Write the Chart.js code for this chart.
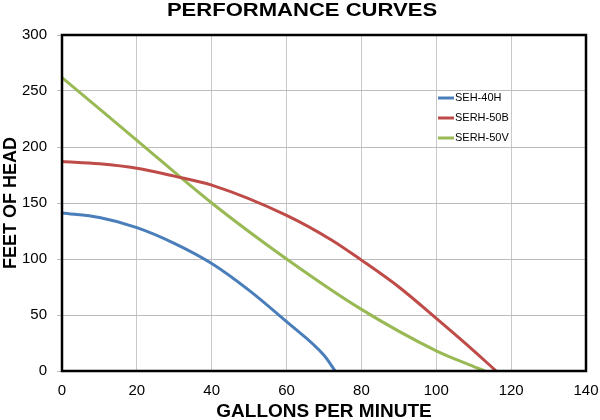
<!DOCTYPE html>
<html>
<head>
<meta charset="utf-8">
<script src="https://cdn.jsdelivr.net/npm/chart.js@4.4.0/dist/chart.umd.min.js"></script>
<style>
  html, body { margin: 0; padding: 0; background: #fff; }
  #wrap { width: 600px; height: 420px; }
</style>
</head>
<body>
<div id="wrap"><canvas id="chart" width="600" height="420"></canvas></div>
<script>
// Curvas de rendimiento (GPM vs. pies de altura)
const seriesNames = ['SEH-40H', 'SERH-50B', 'SERH-50V'];
const seriesColors = ['#4a7ebb', '#be4b48', '#98b954'];

const gpm40H = [0, 10, 20, 30, 40, 50, 60, 70, 73];
const head40H = [141, 137, 128, 114, 96, 72, 44, 14, 0];

const gpm50B = [0, 10, 20, 30, 40, 60, 72, 80, 90, 100, 108, 116];
const head50B = [187, 185, 181, 174, 166, 139, 117, 99, 75, 47, 24, 0];

const gpm50V = [0, 20, 40, 60, 80, 100, 110, 113];
const head50V = [262, 206, 150, 100, 55, 18, 4, 0];

const xTicks = [0, 20, 40, 60, 80, 100, 120, 140];
const yTicks = [0, 50, 100, 150, 200, 250, 300];

const FONT = "'Liberation Sans', Arial, sans-serif";

function toPoints(xs, ys) {
    return xs.map((x, i) => ({ x: x, y: ys[i] }));
}

// marco negro + título + leyenda dentro del área
const decorPlugin = {
    id: 'decor',
    afterDraw(chart) {
        const ctx = chart.ctx;
        const a = chart.chartArea;
        ctx.save();
        ctx.strokeStyle = '#000';
        ctx.lineWidth = 2.5;
        ctx.strokeRect(a.left, a.top, a.right - a.left, a.bottom - a.top);

        // título algo ensanchado, como en la imagen original
        ctx.save();
        ctx.fillStyle = '#000';
        ctx.font = 'bold 19px ' + FONT;
        ctx.textAlign = 'center';
        ctx.textBaseline = 'middle';
        ctx.translate(302, 11);
        ctx.scale(1.16, 1);
        ctx.fillText('PERFORMANCE CURVES', 0, 0);
        ctx.restore();

        ctx.font = '11px ' + FONT;
        ctx.textAlign = 'left';
        ctx.textBaseline = 'middle';
        chart.data.datasets.forEach((ds, i) => {
            const y = 98 + i * 20;
            ctx.strokeStyle = ds.borderColor;
            ctx.lineWidth = 3;
            ctx.beginPath();
            ctx.moveTo(438, y);
            ctx.lineTo(454, y);
            ctx.stroke();
            ctx.fillStyle = '#000';
            ctx.fillText(ds.label, 455, y);
        });
        ctx.restore();
    }
};

const allData = [toPoints(gpm40H, head40H), toPoints(gpm50B, head50B), toPoints(gpm50V, head50V)];

new Chart(document.getElementById('chart'), {
    type: 'line',
    data: {
        datasets: allData.map((pts, i) => ({
            label: seriesNames[i],
            data: pts,
            borderColor: seriesColors[i],
            backgroundColor: seriesColors[i],
            borderWidth: 3,
            pointRadius: 0,
            cubicInterpolationMode: 'monotone',
            fill: false
        }))
    },
    options: {
        animation: false,
        responsive: false,
        layout: { padding: { top: 35, right: 0, left: 0, bottom: 0 } },
        plugins: {
            legend: { display: false },
            title: { display: false },
            tooltip: { enabled: false }
        },
        scales: {
            x: {
                type: 'linear',
                min: 0,
                max: 140,
                afterBuildTicks: s => { s.ticks = xTicks.map(v => ({ value: v })); },
                afterFit: s => { s.height = 49; s.paddingLeft = 0; s.paddingRight = 14; },
                grid: { color: '#c8c8c8', lineWidth: 1, drawTicks: false },
                border: { display: false },
                ticks: { color: '#000', font: { family: FONT, size: 15 }, padding: 11 },
                title: {
                    display: true,
                    text: 'GALLONS PER MINUTE',
                    color: '#000',
                    font: { family: FONT, size: 19, weight: 'bold', lineHeight: 1 },
                    padding: { top: 0, bottom: -1.5 }
                }
            },
            y: {
                min: 0,
                max: 300,
                afterBuildTicks: s => { s.ticks = yTicks.map(v => ({ value: v })); },
                afterFit: s => { s.width = 62; },
                grid: { color: '#bcbcbc', lineWidth: 1, tickLength: 5 },
                border: { display: false },
                ticks: { color: '#000', font: { family: FONT, size: 15 }, padding: 10 },
                title: {
                    display: true,
                    text: 'FEET OF HEAD',
                    color: '#000',
                    font: { family: FONT, size: 18, weight: 'bold' },
                    padding: { top: 0, bottom: 0 }
                }
            }
        }
    },
    plugins: [decorPlugin]
});
</script>
</body>
</html>
